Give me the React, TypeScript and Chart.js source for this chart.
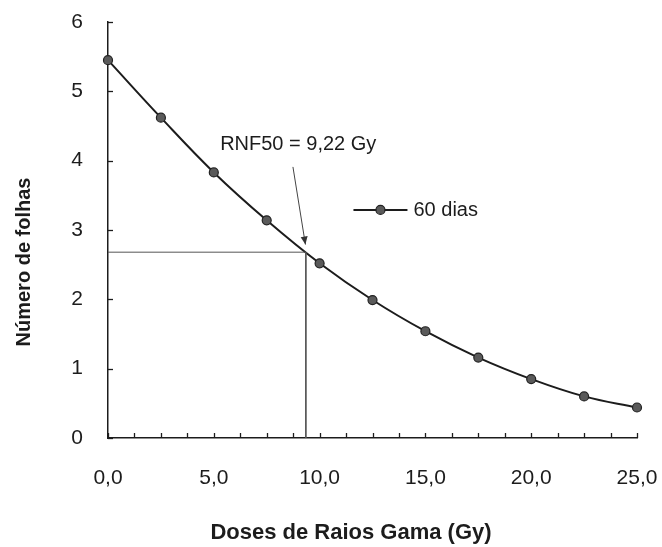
import React, { useEffect, useRef } from "react";
import { Chart, registerables } from "chart.js";

Chart.register(...registerables);

// ---- data ----
const doses: number[] = [0, 2.5, 5, 7.5, 10, 12.5, 15, 17.5, 20, 22.5, 25];
const folhas60: number[] = [5.45, 4.62, 3.83, 3.14, 2.52, 1.99, 1.54, 1.16, 0.85, 0.6, 0.44];
const seriesLabel = "60 dias";
const rnfX = 9.35;
const rnfY = 2.68;
const rnfText = "RNF50 = 9,22 Gy";
const xTitle = "Doses de Raios Gama (Gy)";
const yTitle = "Número de folhas";
const xMin = 0, xMax = 25, xStep = 5, xMinorStep = 1.25;
const yMin = 0, yMax = 6, yStep = 1;

const FONT = "Arial, 'Liberation Sans', sans-serif";
const INK = "#1c1c1c";

const decor = {
  id: "decor",
  afterDraw(chart: any) {
    const ctx = chart.ctx;
    const xs = chart.scales.x;
    const ys = chart.scales.y;
    const area = chart.chartArea;
    ctx.save();
    // tick marks (inside)
    ctx.strokeStyle = INK;
    ctx.lineWidth = 1.3;
    for (let v = yMin; v <= yMax + 1e-9; v += yStep) {
      const py = Math.round(ys.getPixelForValue(v)) + 0.5;
      ctx.beginPath();
      ctx.moveTo(area.left, py);
      ctx.lineTo(area.left + 5, py);
      ctx.stroke();
    }
    for (let v = xMin; v <= xMax + 1e-9; v += xMinorStep) {
      const px = Math.round(xs.getPixelForValue(v)) + 0.5;
      ctx.beginPath();
      ctx.moveTo(px, area.bottom);
      ctx.lineTo(px, area.bottom - 5);
      ctx.stroke();
    }
    // annotation text
    ctx.fillStyle = INK;
    ctx.font = `20px ${FONT}`;
    ctx.textAlign = "left";
    ctx.textBaseline = "middle";
    ctx.fillText(rnfText, xs.getPixelForValue(5.3), ys.getPixelForValue(4.23));
    // arrow
    const ax = xs.getPixelForValue(8.74), ay = ys.getPixelForValue(3.91);
    const bx = xs.getPixelForValue(9.33), by = ys.getPixelForValue(2.79);
    ctx.strokeStyle = "#444";
    ctx.lineWidth = 1;
    ctx.beginPath();
    ctx.moveTo(ax, ay);
    ctx.lineTo(bx, by);
    ctx.stroke();
    const ang = Math.atan2(by - ay, bx - ax);
    const hl = 8, hw = 3.5;
    ctx.fillStyle = "#333";
    ctx.beginPath();
    ctx.moveTo(bx, by);
    ctx.lineTo(bx - hl * Math.cos(ang) + hw * Math.sin(ang), by - hl * Math.sin(ang) - hw * Math.cos(ang));
    ctx.lineTo(bx - hl * Math.cos(ang) - hw * Math.sin(ang), by - hl * Math.sin(ang) + hw * Math.cos(ang));
    ctx.closePath();
    ctx.fill();
    // legend
    const lx = xs.getPixelForValue(11.6), ly = ys.getPixelForValue(3.29);
    ctx.strokeStyle = INK;
    ctx.lineWidth = 2;
    ctx.beginPath();
    ctx.moveTo(lx, ly);
    ctx.lineTo(lx + 54, ly);
    ctx.stroke();
    ctx.fillStyle = "#5a5a5a";
    ctx.strokeStyle = "#222";
    ctx.lineWidth = 1.2;
    ctx.beginPath();
    ctx.arc(lx + 27, ly, 4.5, 0, Math.PI * 2);
    ctx.fill();
    ctx.stroke();
    ctx.fillStyle = INK;
    ctx.font = `20px ${FONT}`;
    ctx.textBaseline = "middle";
    ctx.fillText(seriesLabel, lx + 60, ly + 1);
    // axis titles
    ctx.font = `bold 22px ${FONT}`;
    ctx.textAlign = "center";
    ctx.fillText(xTitle, 351, 533);
    ctx.save();
    ctx.translate(24, 262);
    ctx.rotate(-Math.PI / 2);
    ctx.font = `bold 20px ${FONT}`;
    ctx.fillText(yTitle, 0, 0);
    ctx.restore();
    ctx.restore();
  },
};

export default function App() {
  const ref = useRef<HTMLCanvasElement | null>(null);
  useEffect(() => {
    document.body.style.margin = "0";
    const canvas = ref.current!;
    const chart = new Chart(canvas, {
      type: "line",
      data: {
        datasets: [
          {
            label: "ref",
            data: [
              { x: xMin, y: rnfY },
              { x: rnfX, y: rnfY },
              { x: rnfX, y: yMin },
            ],
            borderColor: "#555",
            borderWidth: 1,
            pointRadius: 0,
            tension: 0,
          },
          {
            label: seriesLabel,
            data: doses.map((d, i) => ({ x: d, y: folhas60[i] })),
            borderColor: INK,
            borderWidth: 2,
            tension: 0.4,
            pointRadius: 4.5,
            pointBackgroundColor: "#5a5a5a",
            pointBorderColor: "#222",
            pointBorderWidth: 1.2,
            clip: false,
          },
        ],
      },
      options: {
        responsive: false,
        animation: false,
        layout: { padding: { left: 0, right: 25, top: 22, bottom: 0 } },
        plugins: { legend: { display: false }, tooltip: { enabled: false } },
        scales: {
          x: {
            type: "linear",
            min: xMin,
            max: xMax,
            afterFit: (s: any) => {
              s.height = 109;
              s.paddingLeft = 0;
              s.paddingRight = 0;
            },
            grid: { display: false, drawTicks: false },
            border: { display: true, color: INK, width: 1.5 },
            ticks: {
              stepSize: xStep,
              padding: 28,
              color: INK,
              font: { family: FONT, size: 21 },
              maxRotation: 0,
              callback: (v: any) => Number(v).toFixed(1).replace(".", ","),
            },
          },
          y: {
            min: yMin,
            max: yMax,
            afterFit: (s: any) => {
              s.width = 108;
              s.paddingTop = 0;
              s.paddingBottom = 0;
            },
            grid: { display: false, drawTicks: false },
            border: { display: true, color: INK, width: 1.5 },
            ticks: {
              stepSize: yStep,
              padding: 25,
              color: INK,
              font: { family: FONT, size: 21 },
            },
          },
        },
      },
      plugins: [decor],
    });
    return () => chart.destroy();
  }, []);
  return <canvas ref={ref} width={662} height={547} style={{ display: "block" }} />;
}
